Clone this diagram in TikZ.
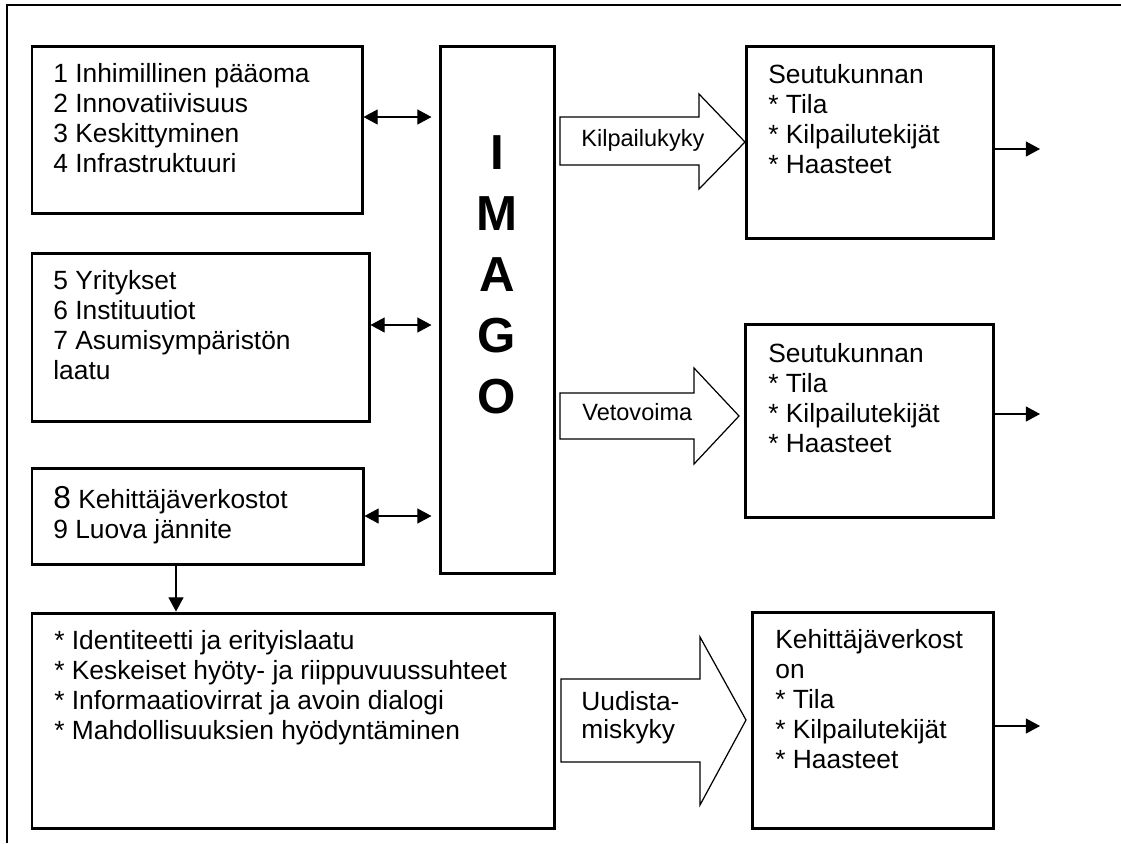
\documentclass[tikz,border=0pt]{standalone}
\usepackage{fontspec}
\setmainfont{Liberation Sans}
\usetikzlibrary{arrows.meta,fit,positioning}

\newcommand{\txtlines}[1]{\begin{tabular}[t]{@{}l@{}}#1\end{tabular}}

\begin{document}
\begin{tikzpicture}[x=0.02cm, y=-0.02cm,
    box/.style={draw, line width=1.7pt, inner sep=0pt},
    txt/.style={font=\fontsize{15}{17.1}\selectfont, inner sep=0pt, anchor=base west},
    lbl/.style={font=\fontsize{13.4}{15.2}\selectfont, inner sep=0pt, anchor=base west},
    imago/.style={font=\fontsize{28}{30}\selectfont\bfseries, inner sep=0pt, anchor=base},
    blk/.style={draw, line width=0.7pt, fill=white},
    arr/.style={line width=0.6pt, -{Triangle[length=8pt,width=8.5pt]}},
    dbl/.style={line width=0.6pt, {Triangle[length=8pt,width=8.5pt]}-{Triangle[length=8pt,width=8.5pt]}},
    frame/.style={line width=0.8pt}]
\useasboundingbox (0,0) rectangle (1121,843);
\draw[frame] (1121,5) -- (7,5) -- (7,843);

% left column
\node[box, fit={(32,46) (362,213)}] (tekijat1) {};
\node[txt] (t1) at (53,82) {\txtlines{1 Inhimillinen pääoma\\2 Innovatiivisuus\\3 Keskittyminen\\4 Infrastruktuuri}};
\node[box, fit={(32,253) (369,421)}] (tekijat2) {};
\node[txt] (t2) at (53,289) {\txtlines{5 Yritykset\\6 Instituutiot\\7 Asumisympäristön\\laatu}};
\node[box, fit={(32,468) (363,564)}] (verkosto) {};
\node[txt] (t3) at (53,508) {\txtlines{{\fontsize{18}{18}\selectfont 8} Kehittäjäverkostot\\9 Luova jännite}};
\node[box, fit={(32,613) (554,828)}] (yhteiso) {};
\node[txt] (t4) at (54,649) {\txtlines{{*} Identiteetti ja erityislaatu\\{*} Keskeiset hyöty- ja riippuvuussuhteet\\{*} Informaatiovirrat ja avoin dialogi\\{*} Mahdollisuuksien hyödyntäminen}};

% imago
\node[box, fit={(440,46) (554,573)}] (imago) {};
\foreach \ch [count=\i from 0] in {I,M,A,G,O}
  \node[imago] (c\i) at (497,{169+61*\i}) {\ch};

% right column
\node[box, fit={(746,46) (993,238)}] (seutu1) {};
\node[txt] (s1) at (768,83) {\txtlines{Seutukunnan\\{*} Tila\\{*} Kilpailutekijät\\{*} Haasteet}};
\node[box, fit={(745,324) (993,517)}] (seutu2) {};
\node[txt] (s2) at (768,362) {\txtlines{Seutukunnan\\{*} Tila\\{*} Kilpailutekijät\\{*} Haasteet}};
\node[box, fit={(752,612) (993,828)}] (kehit) {};
\node[txt] (s3) at (775,648) {\txtlines{Kehittäjäverkost\\on\\{*} Tila\\{*} Kilpailutekijät\\{*} Haasteet}};

% block arrows
\draw[blk] (560,117) -- (699,117) -- (699,94) -- (745,142) -- (699,189) -- (699,165) -- (560,165) -- cycle;
\node[lbl] (k1) at (581,146) {Kilpailukyky};
\draw[blk] (560,393) -- (694,393) -- (694,368) -- (739,416) -- (694,464) -- (694,439) -- (560,439) -- cycle;
\node[lbl] (k2) at (582,420) {Vetovoima};
\draw[blk] (561,679) -- (700,679) -- (700,637) -- (746,720) -- (700,805) -- (700,762) -- (561,762) -- cycle;
\node[txt, font=\fontsize{15}{16.4}\selectfont] (k3) at (581,710) {\txtlines{Uudista-\\miskyky}};

% connectors
\coordinate (y1) at (0,117);
\coordinate (y2) at (0,325);
\coordinate (y3) at (0,516);
\draw[dbl, shorten >=4pt] (tekijat1.east |- y1) -- (imago.west |- y1);
\draw[dbl, shorten >=4pt] (tekijat2.east |- y2) -- (imago.west |- y2);
\draw[dbl, shorten >=4pt] (verkosto.east |- y3) -- (imago.west |- y3);
\coordinate (v) at (176,0);
\draw[arr] (verkosto.south -| v) -- (yhteiso.north -| v);
\coordinate (o1) at (1040,149);
\coordinate (o2) at (1040,414);
\coordinate (o3) at (1040,726);
\draw[arr] (seutu1.east |- o1) -- (o1);
\draw[arr] (seutu2.east |- o2) -- (o2);
\draw[arr] (kehit.east |- o3) -- (o3);
\end{tikzpicture}
\end{document}
